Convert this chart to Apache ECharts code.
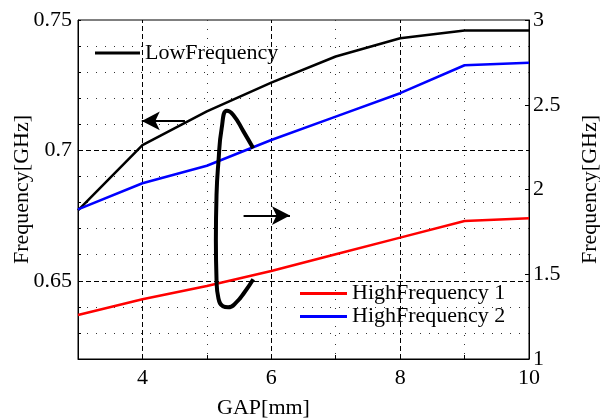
<!DOCTYPE html>
<html>
<head>
<meta charset="utf-8">
<script src="https://cdn.jsdelivr.net/npm/echarts@6/dist/echarts.min.js"></script>
<style>
  html, body { margin: 0; padding: 0; background: #fff; }
  #chart { width: 600px; height: 419px; }
</style>
</head>
<body>
<div id="chart"></div>
<script>
// GAP values (x)
var gap = [3, 4, 5, 6, 7, 8, 9, 10];
// left axis, GHz
var lowFreq = [0.677, 0.702, 0.715, 0.726, 0.736, 0.743, 0.746, 0.746];
// right axis, GHz
var highFreq1 = [1.26, 1.352, 1.431, 1.519, 1.618, 1.716, 1.814, 1.83];
var highFreq2 = [1.883, 2.037, 2.14, 2.292, 2.43, 2.568, 2.733, 2.748];

// hand drawn loop annotation (left axis coords)
var loopX = [5.72, 5.59, 5.46, 5.33, 5.25, 5.18, 5.15, 5.14, 5.15, 5.18, 5.23, 5.31, 5.41, 5.57, 5.72];
var loopY = [0.6506, 0.6458, 0.6418, 0.6398, 0.6402, 0.6432, 0.6503, 0.6656, 0.6829, 0.6957, 0.7085, 0.7152, 0.7136, 0.7072, 0.7008];
// arrows: [x0, x1, y]
var arrowLeft = [4.66, 3.99, 0.7113];
var arrowRight = [5.57, 6.29, 0.675];

var majorX = [4, 6, 8];
var majorY = [0.65, 0.7];

var font = "'Liberation Serif', 'Times New Roman', serif";

function pairs(xs, ys) {
  return xs.map(function (x, i) { return [x, ys[i]]; });
}

var chart = echarts.init(document.getElementById('chart'));

var dashed = { color: '#000', width: 1, type: [5, 3] };
var markData = [];
majorX.forEach(function (v) { markData.push({ xAxis: v, lineStyle: dashed }); });
majorY.forEach(function (v) { markData.push({ yAxis: v, lineStyle: dashed }); });
[arrowLeft, arrowRight].forEach(function (a) {
  markData.push([
    { coord: [a[0], a[2]], symbol: 'none' },
    { coord: [a[1], a[2]], symbol: 'arrow', symbolSize: [14, 18] }
  ]);
});

var option = {
  animation: false,
  backgroundColor: '#fff',
  textStyle: { fontFamily: font, color: '#000' },
  grid: {
    left: 78, right: 71, top: 20, bottom: 60,
    outerBoundsMode: 'none', containLabel: false,
    show: true, borderColor: '#000', borderWidth: 1
  },
  legend: [
    {
      data: ['LowFrequency'],
      left: 95, top: 42, padding: 0,
      icon: 'rect', itemWidth: 45, itemHeight: 3,
      textStyle: { fontFamily: font, fontSize: 22, color: '#000' }
    },
    {
      data: ['HighFrequency 1', 'HighFrequency 2'],
      orient: 'vertical',
      left: 300, top: 282, itemGap: 0, padding: 0,
      icon: 'rect', itemWidth: 47, itemHeight: 3,
      textStyle: { fontFamily: font, fontSize: 22, color: '#000', lineHeight: 23 }
    }
  ],
  xAxis: {
    type: 'value', min: 3, max: 10, interval: 1,
    name: 'GAP[mm]', nameLocation: 'middle', nameGap: 38, nameMoveOverlap: false,
    nameTextStyle: { fontFamily: font, fontSize: 22, color: '#000', padding: [0, 80, 0, 0] },
    axisLine: { lineStyle: { color: '#000' } },
    axisTick: { inside: true, length: 4, lineStyle: { color: '#000' } },
    axisLabel: {
      fontFamily: font, fontSize: 22, color: '#000', margin: 8,
      formatter: function (v) { return v % 2 === 0 ? String(v) : ''; }
    },
    splitLine: { show: true, lineStyle: { color: ['#333', 'rgba(0,0,0,0)'], width: 1, type: [1, 8] } }
  },
  yAxis: [
    {
      type: 'value', min: 0.62, max: 0.75, interval: 0.01,
      name: 'Frequency[GHz]', nameLocation: 'middle', nameGap: 45, nameRotate: 90,
      nameMoveOverlap: false,
      nameTextStyle: { fontFamily: font, fontSize: 22, color: '#000' },
      axisLine: { show: true, lineStyle: { color: '#000' } },
      axisTick: { inside: true, length: 3, lineStyle: { color: '#000' } },
      axisLabel: {
        fontFamily: font, fontSize: 22, color: '#000', margin: 6,
        formatter: function (v) {
          var k = Math.round(v * 100);
          return k % 5 === 0 ? String(k / 100) : '';
        }
      },
      splitLine: {
        show: true,
        lineStyle: {
          color: ['#333', '#333', '#333', 'rgba(0,0,0,0)', '#333'],
          width: 1, type: [1, 8]
        }
      }
    },
    {
      type: 'value', min: 1, max: 3, interval: 0.5, position: 'right',
      name: 'Frequency[GHz]', nameLocation: 'middle', nameGap: 50, nameRotate: 90,
      nameMoveOverlap: false,
      nameTextStyle: { fontFamily: font, fontSize: 22, color: '#000' },
      axisLine: { show: true, lineStyle: { color: '#000' } },
      axisTick: { inside: true, length: 4, lineStyle: { color: '#000' } },
      axisLabel: { fontFamily: font, fontSize: 22, color: '#000', margin: 4 },
      splitLine: { show: false }
    }
  ],
  series: [
    {
      name: 'LowFrequency', type: 'line', yAxisIndex: 0,
      data: pairs(gap, lowFreq), showSymbol: false,
      itemStyle: { color: '#000' }, lineStyle: { color: '#000', width: 2.5 }, z: 5
    },
    {
      name: 'HighFrequency 1', type: 'line', yAxisIndex: 1,
      data: pairs(gap, highFreq1), showSymbol: false,
      itemStyle: { color: '#ff0000' }, lineStyle: { color: '#ff0000', width: 2.5 }, z: 5
    },
    {
      name: 'HighFrequency 2', type: 'line', yAxisIndex: 1,
      data: pairs(gap, highFreq2), showSymbol: false,
      itemStyle: { color: '#0000ff' }, lineStyle: { color: '#0000ff', width: 2.5 }, z: 5
    },
    {
      name: 'loop', type: 'line', yAxisIndex: 0,
      data: pairs(loopX, loopY), showSymbol: false, smooth: 0.5,
      lineStyle: { color: '#000', width: 4 }, z: 6, silent: true,
      markLine: {
        silent: true, symbol: ['none', 'none'], label: { show: false },
        lineStyle: { color: '#000', width: 2, type: 'solid' },
        emphasis: { disabled: true },
        data: markData
      }
    }
  ]
};

chart.setOption(option);
</script>
</body>
</html>
